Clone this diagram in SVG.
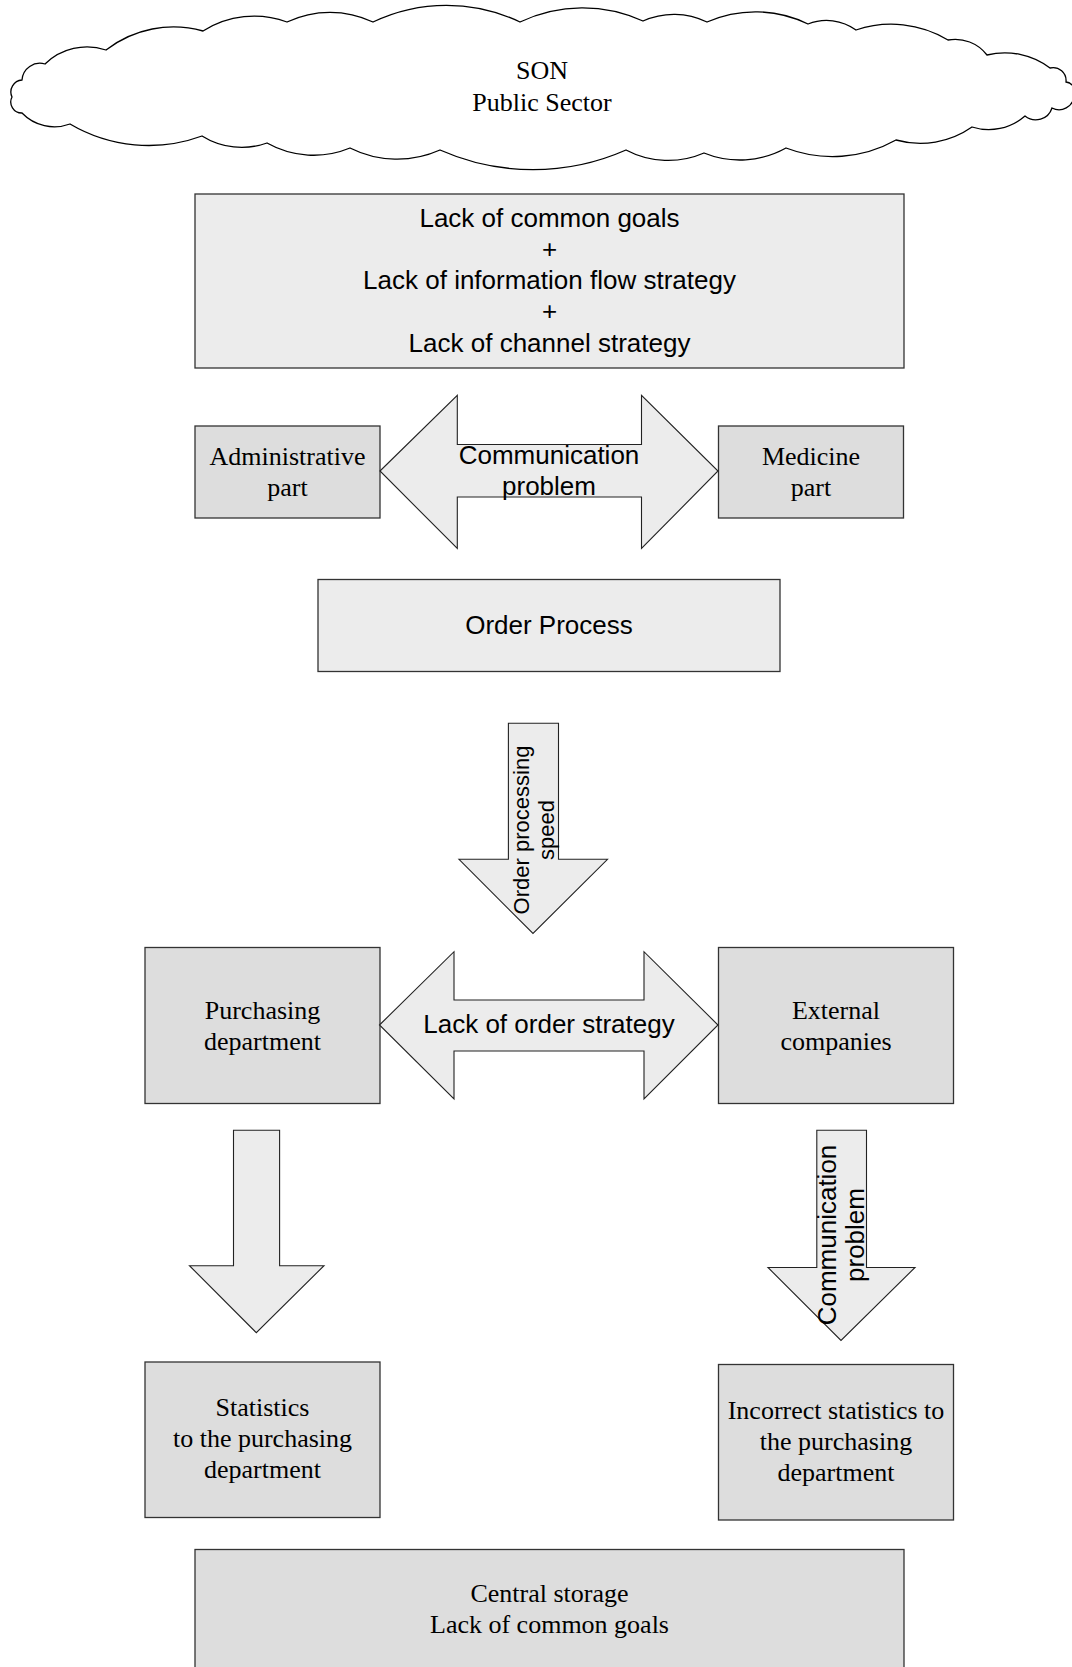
<svg xmlns="http://www.w3.org/2000/svg" width="1072" height="1667" viewBox="0 0 1072 1667">
<style>
  .light { fill: #ececec; stroke: #333333; stroke-width: 1.3; }
  .dark { fill: #dddddd; stroke: #333333; stroke-width: 1.3; }
  .arrow { fill: #ececec; stroke: #222222; stroke-width: 1.1; stroke-linejoin: miter; }
  .cloud { fill: #ffffff; stroke: #000000; stroke-width: 1.3; }
  .serif { font-family: "Liberation Serif", "Times New Roman", serif; font-size: 26px; text-anchor: middle; fill: #000000; }
  .sans { font-family: "Liberation Sans", Arial, sans-serif; font-size: 26px; text-anchor: middle; fill: #000000; }
</style>
<rect x="0" y="0" width="1072" height="1667" fill="#ffffff"/>

<g id="cloud-son">
  <path class="cloud" d="M22,113 A11,11 0 0 1 12,97 A12,12 0 0 1 22,80 A18,18 0 0 1 45,64 A60,60 0 0 1 106,50 A110,110 0 0 1 203,31 A95,95 0 0 1 287,22 A100,100 0 0 1 373,22 A170,170 0 0 1 520,22 A145,145 0 0 1 643,21 A75,75 0 0 1 707,22 A120,120 0 0 1 808,24 A50,50 0 0 1 856,30 A110,110 0 0 1 948,40 A40,40 0 0 1 987,55 A75,75 0 0 1 1050,68 A13,13 0 0 1 1066,82 A10,10 0 0 1 1074,96 A15,15 0 0 1 1052,108 A17,17 0 0 1 1025,116 A55,55 0 0 1 972,127 A90,90 0 0 1 896,140 A130,130 0 0 1 786,148 A95,95 0 0 1 704,153 A90,90 0 0 1 626,150 A230,230 0 0 1 440,150 A105,105 0 0 1 350,148 A95,95 0 0 1 267,143 A75,75 0 0 1 202,136 A155,155 0 0 1 70,124 A45,45 0 0 1 22,113 Z"/>
  <text class="serif" x="542" y="79">SON</text>
  <text class="serif" x="542" y="111">Public Sector</text>
</g>

<g id="node-lacks">
  <rect class="light" x="195" y="194" width="709" height="174"/>
  <text class="sans" x="549.5" y="226.7">Lack of common goals</text>
  <text class="sans" x="549.5" y="257.9">+</text>
  <text class="sans" x="549.5" y="289.1">Lack of information flow strategy</text>
  <text class="sans" x="549.5" y="320.3">+</text>
  <text class="sans" x="549.5" y="351.5">Lack of channel strategy</text>
</g>

<g id="node-administrative">
  <rect class="dark" x="195" y="426" width="185" height="92"/>
  <text class="serif" x="287.5" y="465">Administrative</text>
  <text class="serif" x="287.5" y="496">part</text>
</g>

<g id="node-medicine">
  <rect class="dark" x="718.5" y="426" width="185" height="92"/>
  <text class="serif" x="811" y="465">Medicine</text>
  <text class="serif" x="811" y="496">part</text>
</g>

<g id="node-order-process">
  <rect class="light" x="318" y="579.5" width="462" height="92"/>
  <text class="sans" x="549" y="634">Order Process</text>
</g>

<g id="node-purchasing">
  <rect class="dark" x="145" y="947.5" width="235" height="156"/>
  <text class="serif" x="262.5" y="1019">Purchasing</text>
  <text class="serif" x="262.5" y="1050">department</text>
</g>

<g id="node-external">
  <rect class="dark" x="718.5" y="947.5" width="235" height="156"/>
  <text class="serif" x="836" y="1019">External</text>
  <text class="serif" x="836" y="1050">companies</text>
</g>

<g id="node-statistics">
  <rect class="dark" x="145" y="1362" width="235" height="155.5"/>
  <text class="serif" x="262.5" y="1416">Statistics</text>
  <text class="serif" x="262.5" y="1447">to the purchasing</text>
  <text class="serif" x="262.5" y="1478">department</text>
</g>

<g id="node-incorrect-statistics">
  <rect class="dark" x="718.5" y="1364.5" width="235" height="155.5"/>
  <text class="serif" x="836" y="1419">Incorrect statistics to</text>
  <text class="serif" x="836" y="1450">the purchasing</text>
  <text class="serif" x="836" y="1481">department</text>
</g>

<g id="node-central-storage">
  <rect class="dark" x="195" y="1549.5" width="709" height="140"/>
  <text class="serif" x="549.5" y="1602">Central storage</text>
  <text class="serif" x="549.5" y="1633">Lack of common goals</text>
</g>

<g id="connectors">
  <g id="arrow-communication-problem">
    <polygon class="arrow" points="380,471 457.3,395.3 457.3,444.5 641.5,444.5 641.5,395.3 718,471 641.5,548.5 641.5,497 457.3,497 457.3,548.5"/>
    <text class="sans" x="549" y="464">Communication</text>
    <text class="sans" x="549" y="495">problem</text>
  </g>
  <g id="arrow-order-processing-speed">
    <polygon class="arrow" points="508.4,723.3 558.5,723.3 558.5,859.3 607.5,859.3 533,933.5 459,859.3 508.4,859.3"/>
    <text class="sans" style="font-size:22px" transform="translate(529,830) rotate(-90)" x="0" y="0">Order processing</text>
    <text class="sans" style="font-size:22px" transform="translate(554,830) rotate(-90)" x="0" y="0">speed</text>
  </g>
  <g id="arrow-lack-of-order-strategy">
    <polygon class="arrow" points="379.5,1025 454,951.7 454,1000 644,1000 644,951.7 718,1025 644,1099 644,1051 454,1051 454,1099"/>
    <text class="sans" x="549" y="1033">Lack of order strategy</text>
  </g>
  <g id="arrow-purchasing-statistics">
    <polygon class="arrow" points="233.5,1130.3 279.6,1130.3 279.6,1265.7 324,1265.7 256.3,1332.7 189.5,1265.7 233.5,1265.7"/>
  </g>
  <g id="arrow-external-communication">
    <polygon class="arrow" points="816.8,1130.3 866.5,1130.3 866.5,1267.5 915,1267.5 841,1340.5 768,1267.5 816.8,1267.5"/>
    <text class="sans" transform="translate(836,1235) rotate(-90)" x="0" y="0">Communication</text>
    <text class="sans" transform="translate(864,1235) rotate(-90)" x="0" y="0">problem</text>
  </g>
</g>
</svg>
